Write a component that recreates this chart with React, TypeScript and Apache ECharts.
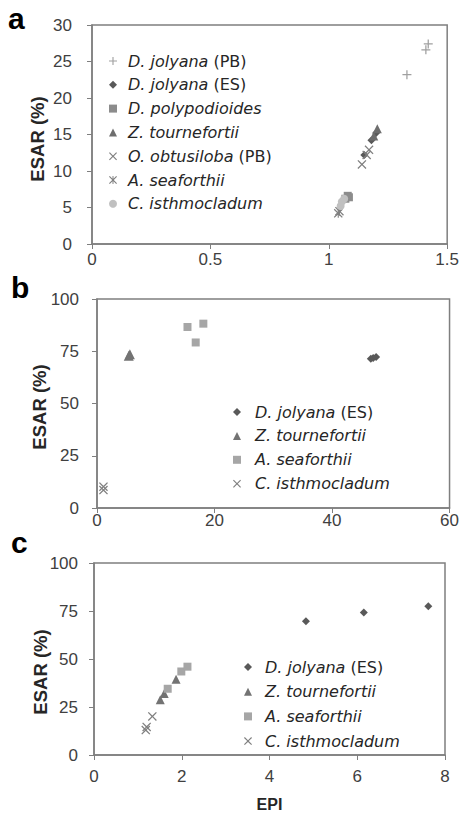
import React, { useEffect, useRef } from 'react';
import * as echarts from 'echarts';

// ---------- data ----------
// Panel a
const aJolyanaPB = [[1.33, 23.2], [1.41, 26.6], [1.42, 27.4]];
const aJolyanaES = [[1.15, 12.2], [1.18, 14.2], [1.2, 15.2]];
const aPolypodioides = [[1.07, 6.2], [1.08, 6.6], [1.085, 6.4]];
const aTournefortii = [[1.19, 14.8], [1.205, 15.8]];
const aObtusiloba = [[1.14, 10.9], [1.16, 12.2], [1.17, 12.9]];
const aSeaforthii = [[1.04, 4.2], [1.045, 4.5]];
const aIsthmocladum = [[1.05, 5.2], [1.055, 5.8], [1.065, 6.2]];
// Panel b
const bJolyanaES = [[46.6, 71.4], [47.0, 71.8], [47.5, 72.3]];
const bTournefortii = [[5.4, 72.8], [5.6, 73.6]];
const bSeaforthii = [[15.4, 86.6], [16.8, 79.2], [18.1, 88.2]];
const bIsthmocladum = [[1.1, 10.2], [1.1, 8.6]];
// Panel c
const cJolyanaES = [[4.83, 69.6], [6.15, 74.2], [7.62, 77.5]];
const cTournefortii = [[1.51, 28.8], [1.6, 32], [1.87, 39.5]];
const cSeaforthii = [[1.68, 34.5], [1.99, 43.5], [2.13, 46]];
const cIsthmocladum = [[1.18, 13.0], [1.2, 14.6], [1.33, 20.1]];

const namesA = ['D. jolyana (PB)', 'D. jolyana (ES)', 'D. polypodioides', 'Z. tournefortii', 'O. obtusiloba (PB)', 'A. seaforthii', 'C. isthmocladum'];
const namesBC = ['D. jolyana (ES)', 'Z. tournefortii', 'A. seaforthii', 'C. isthmocladum'];

const xTicksA = { min: 0, max: 1.5, interval: 0.5 };
const yTicksA = { min: 0, max: 30, interval: 5 };
const xTicksB = { min: 0, max: 60, interval: 20 };
const yTicksB = { min: 0, max: 100, interval: 25 };
const xTicksC = { min: 0, max: 8, interval: 2 };
const yTicksC = { min: 0, max: 100, interval: 25 };

// ---------- symbols ----------
const PLUS = 'path://M4.3,0H5.7V4.3H10V5.7H5.7V10H4.3V5.7H0V4.3H4.3Z';
const CROSS = 'path://M0,1L1,0L5,4L9,0L10,1L6,5L10,9L9,10L5,6L1,10L0,9L4,5Z';
const STAR = 'path://M0,1L1,0L5,4L9,0L10,1L6,5L10,9L9,10L5,6L1,10L0,9L4,5Z M4.4,0H5.6V10H4.4Z';

const AXIS_COLOR = '#7f7f7f';
const TICK_FONT = 'Liberation Sans';
const LEG_FONT = 'DejaVu Sans';

function App() {
  const ref = useRef<HTMLDivElement>(null);
  useEffect(() => {
    if (!ref.current) return;
    const chart = echarts.init(ref.current, null, { renderer: 'svg' });

    const grids = [
      { left: 92, top: 25, width: 357, height: 219 },
      { left: 97, top: 299, width: 353, height: 209 },
      { left: 94, top: 563, width: 351, height: 192 },
    ];
    const xt = [xTicksA, xTicksB, xTicksC];
    const yt = [yTicksA, yTicksB, yTicksC];
    const xLabelMargin = [7, 4, 13];
    const yLabelMargin = [20, 18, 16];

    const axisCommon = {
      type: 'value' as const,
      splitLine: { show: false },
      axisLine: { show: true, lineStyle: { color: AXIS_COLOR, width: 1.5 } },
      axisTick: { show: true, length: 5, lineStyle: { color: AXIS_COLOR, width: 1 } },
    };

    const xAxis = grids.map((_, i) => ({
      ...axisCommon,
      gridIndex: i,
      ...xt[i],
      axisLabel: { fontFamily: TICK_FONT, fontSize: 17, color: '#404040', margin: xLabelMargin[i] },
      ...(i === 2
        ? {
            name: 'EPI',
            nameLocation: 'middle',
            nameGap: 41,
            nameTextStyle: { fontFamily: TICK_FONT, fontWeight: 'bold', fontSize: 16, color: '#262626' },
          }
        : {}),
    }));
    const yAxis = grids.map((_, i) => ({
      ...axisCommon,
      gridIndex: i,
      ...yt[i],
      axisLabel: { fontFamily: TICK_FONT, fontSize: 17, color: '#404040', margin: yLabelMargin[i] },
    }));

    const mk = (prefix: string, name: string, idx: number, data: number[][], symbol: string, size: number, color: string) => ({
      type: 'scatter' as const,
      name: prefix + name,
      xAxisIndex: idx,
      yAxisIndex: idx,
      data,
      symbol,
      symbolSize: size,
      itemStyle: { color, opacity: 1 },
    });

    const series = [
      mk('a|', namesA[0], 0, aJolyanaPB, PLUS, 9, '#a0a0a0'),
      mk('a|', namesA[1], 0, aJolyanaES, 'diamond', 8, '#595959'),
      mk('a|', namesA[2], 0, aPolypodioides, 'rect', 8, '#8c8c8c'),
      mk('a|', namesA[3], 0, aTournefortii, 'triangle', 9, '#6e6e6e'),
      mk('a|', namesA[4], 0, aObtusiloba, CROSS, 9, '#7f7f7f'),
      mk('a|', namesA[5], 0, aSeaforthii, STAR, 9, '#808080'),
      mk('a|', namesA[6], 0, aIsthmocladum, 'circle', 8, '#c0c0c0'),
      mk('b|', namesBC[0], 1, bJolyanaES, 'diamond', 8, '#595959'),
      mk('b|', namesBC[1], 1, bTournefortii, 'triangle', 10, '#737373'),
      mk('b|', namesBC[2], 1, bSeaforthii, 'rect', 8, '#a6a6a6'),
      mk('b|', namesBC[3], 1, bIsthmocladum, CROSS, 9, '#7f7f7f'),
      mk('c|', namesBC[0], 2, cJolyanaES, 'diamond', 8, '#595959'),
      mk('c|', namesBC[1], 2, cTournefortii, 'triangle', 9, '#737373'),
      mk('c|', namesBC[2], 2, cSeaforthii, 'rect', 8, '#a6a6a6'),
      mk('c|', namesBC[3], 2, cIsthmocladum, CROSS, 9, '#7f7f7f'),
    ];

    const richStyle = (pad: number) => ({
      i: { fontFamily: LEG_FONT, fontStyle: 'italic', fontSize: 16, color: '#262626', lineHeight: 18, padding: [0, 0, 0, pad] },
      n: { fontFamily: LEG_FONT, fontStyle: 'normal', fontSize: 16, color: '#262626', lineHeight: 18 },
    });
    const fmt = (name: string) => {
      const s = name.slice(2);
      const m = s.match(/^(.*?)(\s\(.*\))?$/);
      const main = m ? m[1] : s;
      const q = m && m[2] ? m[2] : '';
      return '{i|' + main + '}' + (q ? '{n|' + q + '}' : '');
    };
    const legendCommon = (pad: number) => ({
      orient: 'vertical' as const,
      itemHeight: 8,
      itemWidth: 8,
      symbolKeepAspect: true,
      selectedMode: false,
      formatter: fmt,
      textStyle: { fontFamily: LEG_FONT, fontSize: 16, color: '#262626', lineHeight: 18, rich: richStyle(pad) },
      padding: 0,
    });

    const legend = [
      { ...legendCommon(6), left: 109, top: 52, itemGap: 5.8, data: namesA.map((n) => 'a|' + n) },
      { ...legendCommon(9), left: 233, top: 403, itemGap: 5.9, data: namesBC.map((n) => 'b|' + n) },
      { ...legendCommon(8), left: 244, top: 658, itemGap: 6.7, data: namesBC.map((n) => 'c|' + n) },
    ];

    const letterStyle = { fontFamily: TICK_FONT, fontWeight: 'bold', fontSize: 30, fill: '#000' };
    const ytitleStyle = { text: 'ESAR (%)', fontFamily: TICK_FONT, fontWeight: 'bold', fontSize: 18.5, fill: '#262626', align: 'center', verticalAlign: 'middle' };

    const graphic = [
      { type: 'text', left: 8, top: 3, style: { ...letterStyle, text: 'a' } },
      { type: 'text', left: 11, top: 272, style: { ...letterStyle, text: 'b' } },
      { type: 'text', left: 11, top: 527, style: { ...letterStyle, text: 'c' } },
      { type: 'text', x: 37, y: 139, rotation: Math.PI / 2, style: { ...ytitleStyle } },
      { type: 'text', x: 39, y: 407, rotation: Math.PI / 2, style: { ...ytitleStyle } },
      { type: 'text', x: 40, y: 672, rotation: Math.PI / 2, style: { ...ytitleStyle } },
    ];

    chart.setOption({
      animation: false,
      backgroundColor: '#ffffff',
      grid: grids.map((g) => ({ ...g, show: true, borderColor: AXIS_COLOR, borderWidth: 1.5, backgroundColor: 'transparent' })),
      xAxis,
      yAxis,
      legend,
      series,
      graphic,
    });
    return () => chart.dispose();
  }, []);
  return <div ref={ref} style={{ position: 'fixed', left: 0, top: 0, width: 462, height: 814 }} />;
}

export default App;
